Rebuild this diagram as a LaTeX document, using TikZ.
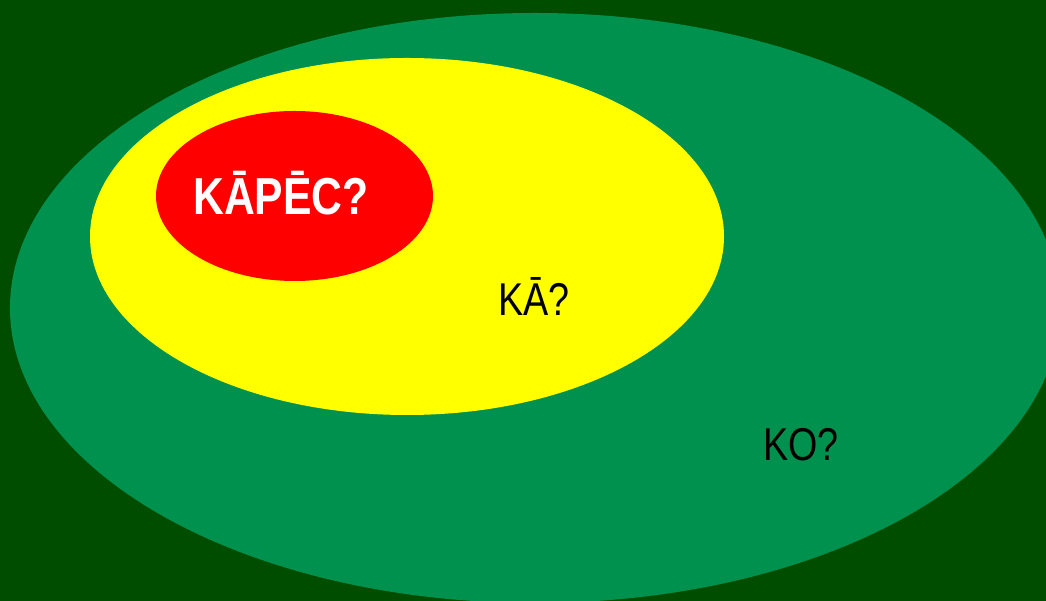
\documentclass[tikz,border=0pt]{standalone}
\usepackage{fontspec}
\setmainfont{Liberation Sans}[FakeStretch=0.82]
\definecolor{bgdark}{HTML}{004D00}
\definecolor{midgreen}{HTML}{00914F}
\definecolor{yel}{HTML}{FFFF00}
\definecolor{rd}{HTML}{FF0000}
\begin{document}
\begin{tikzpicture}[x=1pt,y=1pt,
  lbl/.style={inner sep=0pt,anchor=base}]
\fill[bgdark] (0,0) rectangle (1046,601);
\useasboundingbox (0,0) rectangle (1046,601);
\clip (0,0) rectangle (1046,601);
\fill[midgreen] (535,293) ellipse [x radius=525, y radius=295];
\fill[yel] (407,364.5) ellipse [x radius=317, y radius=178.5];
\fill[rd] (294.5,405) ellipse [x radius=138.5, y radius=85];
\node[lbl,text=white,font=\fontsize{52}{60}\selectfont\bfseries] (kapec) at (281,386) {KĀPĒC?};
\node[lbl,font=\fontsize{46}{54}\selectfont] (ka) at (534,285) {KĀ?};
\node[lbl,font=\fontsize{46}{54}\selectfont] (ko) at (801,140) {KO?};
\end{tikzpicture}
\end{document}
